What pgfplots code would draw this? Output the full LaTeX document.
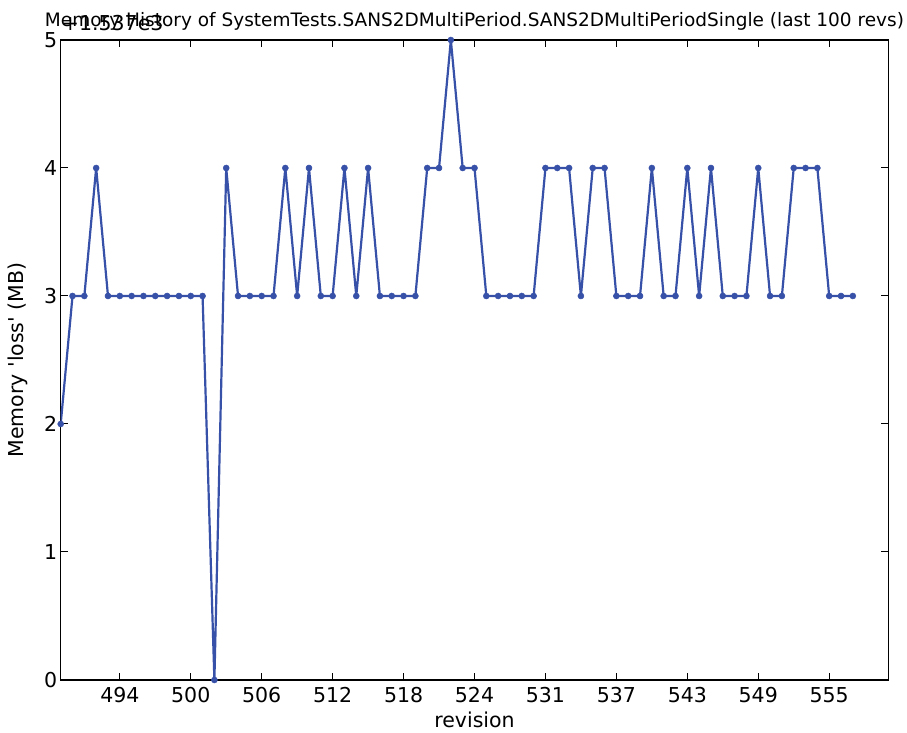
\documentclass[border=0pt]{standalone}
\usepackage{fontspec}
\setmainfont{DejaVu Sans}
\usepackage{pgfplots}
\usepackage{pgfplotstable}
\pgfplotsset{compat=1.18}
\definecolor{mplblue}{RGB}{55,80,168}
\pgfplotstableread{
x y
0 2
1 3
2 3
3 4
4 3
5 3
6 3
7 3
8 3
9 3
10 3
11 3
12 3
13 0
14 4
15 3
16 3
17 3
18 3
19 4
20 3
21 4
22 3
23 3
24 4
25 3
26 4
27 3
28 3
29 3
30 3
31 4
32 4
33 5
34 4
35 4
36 3
37 3
38 3
39 3
40 3
41 4
42 4
43 4
44 3
45 4
46 4
47 3
48 3
49 3
50 4
51 3
52 3
53 4
54 3
55 4
56 3
57 3
58 3
59 4
60 3
61 3
62 4
63 4
64 4
65 3
66 3
67 3
}\memdata
\begin{document}
\begin{tikzpicture}[x=1pt,y=1pt]
\useasboundingbox (0,0) rectangle (907,733);
\begin{axis}[
  name=ax,
  at={(60.7pt,53pt)}, anchor=south west,
  scale only axis, width=827.6pt, height=640pt,
  xmin=0, xmax=70, ymin=0, ymax=5,
  xtick={5,11,17,23,29,35,41,47,53,59,65},
  xticklabels={494,500,506,512,518,524,531,537,543,549,555},
  ytick={0,1,2,3,4,5},
  tick align=inside, major tick length=7pt,
  axis line style={line width=1.4pt, black},
  tick style={line width=1pt, black},
  font=\fontsize{20.5}{24}\selectfont,
  /pgf/number format/assume math mode=true,
  xticklabel style={anchor=base, yshift=-23pt},
  yticklabel style={anchor=east},
  xlabel={revision},
  ylabel={Memory \textquotesingle loss\textquotesingle\ (MB)},
  every axis x label/.style={at={(axis description cs:0.5,-0.075)}, anchor=base},
  every axis y label/.style={at={(axis description cs:-0.0447,0.5)}, anchor=base, rotate=90},
  title={\resizebox{859pt}{!}{Memory History of SystemTests.SANS2DMultiPeriod.SANS2DMultiPeriodSingle (last 100 revs)}},
  every axis title/.style={at={(axis description cs:0.5,1)}, anchor=base, yshift=13pt},
]
\addplot[mplblue, line width=2.2pt, mark=*, mark size=3pt, mark options={solid, fill=mplblue, draw=mplblue, line width=0.5pt}] table[x=x, y=y] {\memdata};
\end{axis}
\node[anchor=base west, inner sep=0pt, font=\fontsize{20.5}{24}\selectfont] at (ax.north west) [xshift=1pt, yshift=9pt] {+1.537e3};
\end{tikzpicture}
\end{document}
